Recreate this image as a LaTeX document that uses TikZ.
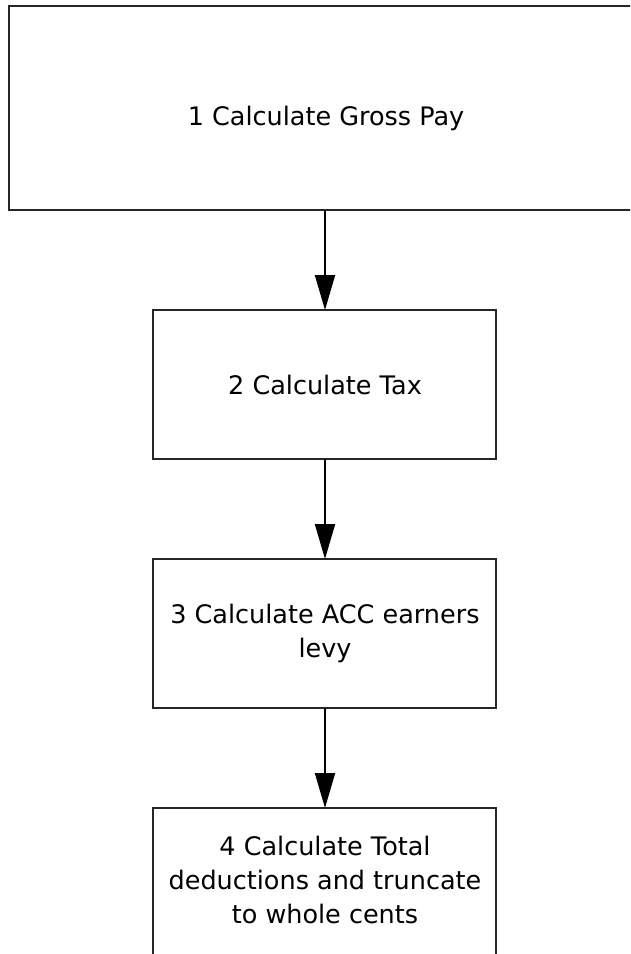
\documentclass[tikz,border=0pt]{standalone}
\usepackage{fontspec}
\setmainfont{DejaVu Sans}
\usetikzlibrary{arrows.meta}
\begin{document}
\begin{tikzpicture}[x=1pt,y=-1pt,
  box/.style={draw=black!85,line width=1.5pt},
  lbl/.style={align=center,font=\fontsize{25.5}{34}\selectfont,inner sep=0pt},
  flow/.style={draw=black,line width=2pt,-{Triangle[length=35pt,width=20pt]}}]
\useasboundingbox (0,0) rectangle (630,954);
\clip (0,0) rectangle (630,954);
\fill[white] (0,0) rectangle (630,954);
\draw[box] (640,210) -- (9,210) -- (9,6) -- (640,6);
\coordinate (b1) at (325,210);
\node[lbl] (t1) at (326,118) {1 Calculate Gross Pay};
\draw[box] (153,310) rectangle (496,459);
\coordinate (t2top) at (325,310);
\coordinate (b2) at (325,459);
\node[lbl] (t2) at (325,385) {2 Calculate Tax};
\draw[box] (153,559) rectangle (496,708);
\coordinate (t3top) at (325,559);
\coordinate (b3) at (325,708);
\node[lbl] (t3) at (325,633) {3 Calculate ACC earners\\levy};
\draw[box] (496,970) -- (496,808) -- (153,808) -- (153,970);
\coordinate (t4top) at (325,808);
\node[lbl] (t4) at (325,880) {4 Calculate Total\\deductions and truncate\\to whole cents};
\draw[flow] (b1) -- (t2top);
\draw[flow] (b2) -- (t3top);
\draw[flow] (b3) -- (t4top);
\end{tikzpicture}
\end{document}
